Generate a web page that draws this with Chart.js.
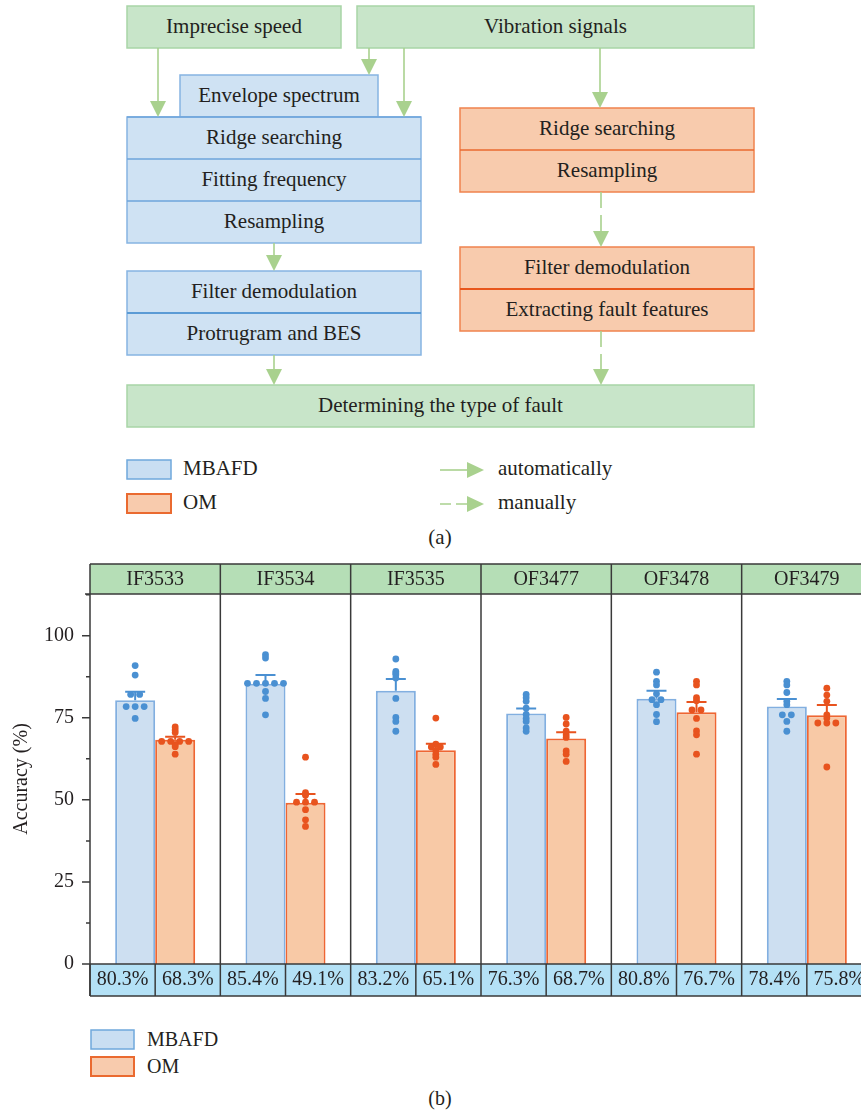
<!DOCTYPE html>
<html>
<head>
<meta charset="utf-8">
<title>MBAFD vs OM</title>
<script src="https://cdn.jsdelivr.net/npm/chart.js@4.4.1/dist/chart.umd.min.js"></script>
<style>
  html, body { margin: 0; padding: 0; background: #fff; overflow: hidden; }
  #page { position: relative; width: 861px; height: 1117px; overflow: hidden; background: #fff; }
  #fig { position: absolute; left: 0; top: 0; }
  #acc { position: absolute; left: 0; top: 555px; }
  svg text { font-family: "Liberation Serif", "Times New Roman", serif; fill: #231f20; }
</style>
</head>
<body>
<div id="page">
<svg id="fig" width="861" height="1117" xmlns="http://www.w3.org/2000/svg">
  <g font-size="21" text-anchor="middle" dominant-baseline="central">
    <!-- inputs -->
    <rect x="127" y="6" width="214" height="42" fill="#c8e5c9" stroke="#a8d5a6" stroke-width="1.5"/>
    <text x="234" y="26">Imprecise speed</text>
    <rect x="357" y="6" width="397" height="42" fill="#c8e5c9" stroke="#a8d5a6" stroke-width="1.5"/>
    <text x="555.5" y="26">Vibration signals</text>

    <!-- MBAFD branch -->
    <rect x="180" y="75" width="198" height="42" fill="#cfe2f3" stroke="#86b4e2" stroke-width="1.5"/>
    <text x="279" y="95">Envelope spectrum</text>
    <rect x="127" y="117" width="294" height="126" fill="#cfe2f3" stroke="#86b4e2" stroke-width="1.5"/>
    <line x1="127" y1="117" x2="421" y2="117" stroke="#6ea5db" stroke-width="1.5"/>
    <line x1="127" y1="159" x2="421" y2="159" stroke="#6ea5db" stroke-width="1.5"/>
    <line x1="127" y1="201" x2="421" y2="201" stroke="#6ea5db" stroke-width="1.5"/>
    <text x="274" y="137">Ridge searching</text>
    <text x="274" y="179">Fitting frequency</text>
    <text x="274" y="221">Resampling</text>
    <rect x="127" y="271" width="294" height="84" fill="#cfe2f3" stroke="#86b4e2" stroke-width="1.5"/>
    <line x1="127" y1="313" x2="421" y2="313" stroke="#5b9bd5" stroke-width="2"/>
    <text x="274" y="291">Filter demodulation</text>
    <text x="274" y="333">Protrugram and BES</text>

    <!-- OM branch -->
    <rect x="460" y="108" width="294" height="84" fill="#f8cbad" stroke="#f0834e" stroke-width="1.5"/>
    <line x1="460" y1="150" x2="754" y2="150" stroke="#ea6a30" stroke-width="1.5"/>
    <text x="607" y="128">Ridge searching</text>
    <text x="607" y="170">Resampling</text>
    <rect x="460" y="247" width="294" height="84" fill="#f8cbad" stroke="#f0834e" stroke-width="1.5"/>
    <line x1="460" y1="289" x2="754" y2="289" stroke="#e8561c" stroke-width="2"/>
    <text x="607" y="267">Filter demodulation</text>
    <text x="607" y="309">Extracting fault features</text>

    <!-- output -->
    <rect x="127" y="385" width="627" height="42" fill="#c8e5c9" stroke="#a8d5a6" stroke-width="1.5"/>
    <text x="440.5" y="405">Determining the type of fault</text>
  </g>

  <!-- arrows -->
  <g stroke="#a9d18e" stroke-width="1.6" fill="none">
    <line x1="158" y1="48" x2="158" y2="102"/>
    <line x1="369" y1="48" x2="369" y2="60"/>
    <line x1="404" y1="48" x2="404" y2="102"/>
    <line x1="600" y1="48" x2="600" y2="93"/>
    <line x1="274" y1="243" x2="274" y2="256"/>
    <line x1="274" y1="355" x2="274" y2="370"/>
    <line x1="601" y1="192" x2="601" y2="232" stroke-dasharray="16 7"/>
    <line x1="601" y1="331" x2="601" y2="370" stroke-dasharray="16 7"/>
    <line x1="440" y1="470" x2="468" y2="470"/>
    <line x1="440" y1="504" x2="468" y2="504" stroke-dasharray="11 5"/>
  </g>
  <g fill="#a9d18e">
    <polygon points="150,101 166,101 158,117"/>
    <polygon points="361,59 377,59 369,75"/>
    <polygon points="396,101 412,101 404,117"/>
    <polygon points="592,92 608,92 600,108"/>
    <polygon points="266,255 282,255 274,271"/>
    <polygon points="266,369 282,369 274,385"/>
    <polygon points="593,231 609,231 601,247"/>
    <polygon points="593,369 609,369 601,385"/>
    <polygon points="467,462 484,470 467,478"/>
    <polygon points="467,496 484,504 467,512"/>
  </g>

  <!-- flowchart key -->
  <rect x="127" y="460" width="44" height="19" fill="#c9def2" stroke="#6fa8dc" stroke-width="1.5"/>
  <rect x="127" y="494" width="44" height="19" fill="#f8cbad" stroke="#ea6a30" stroke-width="2"/>
  <g font-size="21" dominant-baseline="central">
    <text x="183" y="468">MBAFD</text>
    <text x="183" y="502">OM</text>
    <text x="498" y="468">automatically</text>
    <text x="498" y="502">manually</text>
    <text x="440" y="537" text-anchor="middle">(a)</text>
  </g>

  <!-- chart key -->
  <rect x="91" y="1030" width="43" height="19" fill="#c9def2" stroke="#6fa8dc" stroke-width="1.5"/>
  <rect x="91" y="1057" width="43" height="19" fill="#f8cbad" stroke="#ea6a30" stroke-width="2"/>
  <g font-size="20" dominant-baseline="central">
    <text x="147" y="1039">MBAFD</text>
    <text x="147" y="1066">OM</text>
    <text x="440" y="1098" text-anchor="middle">(b)</text>
  </g>
</svg>
<canvas id="acc" width="880" height="450"></canvas>
</div>

<script>
// Bearing data sets and accuracy results
const categories = ['IF3533', 'IF3534', 'IF3535', 'OF3477', 'OF3478', 'OF3479'];
const mbafdMean = [80.3, 85.4, 83.2, 76.3, 80.8, 78.4];
const omMean = [68.3, 49.1, 65.1, 68.7, 76.7, 75.8];
const mbafdSem = [2.6, 2.6, 3.6, 1.5, 2.4, 2.3];
const omSem = [0.9, 2.7, 2.0, 1.9, 3.1, 3.1];

// Accuracy of each individual run (%)
const mbafdRuns = [
  [90.9, 88.0, 82.1, 82.1, 78.4, 78.4, 78.4, 74.8],
  [94.2, 93.2, 85.5, 85.5, 85.5, 85.5, 85.5, 83.0, 80.9, 75.9],
  [92.9, 89.1, 88.6, 88.1, 87.1, 80.9, 75.1, 73.9, 70.9],
  [82.1, 81.1, 80.0, 77.9, 76.0, 74.8, 73.9, 71.9, 70.9],
  [88.9, 86.1, 85.0, 82.3, 80.5, 80.5, 79.0, 76.0, 73.8],
  [86.1, 85.0, 82.7, 80.0, 79.0, 75.9, 75.9, 73.9, 70.9]
];
const omRuns = [
  [72.2, 71.3, 70.5, 67.8, 67.8, 67.8, 67.8, 66.8, 66.2, 63.9],
  [63.0, 52.2, 51.4, 49.3, 49.3, 49.3, 47.0, 43.9, 41.9],
  [74.9, 67.0, 66.1, 66.1, 65.0, 63.9, 63.0, 60.8],
  [75.1, 73.1, 70.9, 69.8, 69.0, 64.9, 63.9, 61.7],
  [86.1, 85.0, 81.1, 80.2, 77.4, 77.4, 74.8, 71.0, 69.8, 63.9],
  [84.0, 81.9, 80.0, 75.9, 74.9, 73.4, 73.4, 73.4, 60.0]
];

const yTicks = [0, 25, 50, 75, 100];
const yMax = 112.7;

const SERIF = '"Liberation Serif", "Times New Roman", serif';
const INK = '#231f20';
const FRAME = '#3a3a3a';

Chart.defaults.font.family = SERIF;
Chart.defaults.color = INK;

// horizontal offsets for runs that share the same value
function spreadOffsets(vals, gap) {
  const counts = {}, seen = {};
  vals.forEach(v => { counts[v] = (counts[v] || 0) + 1; });
  return vals.map(v => {
    const k = (seen[v] = (seen[v] || 0) + 1) - 1;
    return (k - (counts[v] - 1) / 2) * gap;
  });
}

const series = [
  { mean: mbafdMean, sem: mbafdSem, runs: mbafdRuns, dot: '#4a90d2' },
  { mean: omMean, sem: omSem, runs: omRuns, dot: '#e8531e' }
];

const panelFrame = {
  id: 'panelFrame',
  beforeDatasetsDraw(chart) {
    const { ctx, chartArea: a, scales: { x } } = chart;
    const w = x.getPixelForValue(1) - x.getPixelForValue(0);
    ctx.save();
    ctx.strokeStyle = FRAME;
    ctx.lineWidth = 1.5;
    for (let i = 1; i < categories.length; i++) {
      const px = x.getPixelForValue(i) - w / 2;
      ctx.beginPath();
      ctx.moveTo(px, a.top);
      ctx.lineTo(px, a.bottom);
      ctx.stroke();
    }
    ctx.restore();
  },
  afterDatasetsDraw(chart) {
    const { ctx, chartArea: a, scales: { x, y } } = chart;
    const w = x.getPixelForValue(1) - x.getPixelForValue(0);

    // error bars (mean + SEM) and individual runs
    series.forEach((s, di) => {
      const meta = chart.getDatasetMeta(di);
      meta.data.forEach((bar, i) => {
        const yTop = y.getPixelForValue(s.mean[i]);
        const yCap = y.getPixelForValue(s.mean[i] + s.sem[i]);
        ctx.save();
        ctx.strokeStyle = s.dot;
        ctx.lineWidth = 2;
        ctx.beginPath();
        ctx.moveTo(bar.x, yTop);
        ctx.lineTo(bar.x, yCap);
        ctx.moveTo(bar.x - 10, yCap);
        ctx.lineTo(bar.x + 10, yCap);
        ctx.stroke();
        const offs = spreadOffsets(s.runs[i], 9);
        ctx.fillStyle = s.dot;
        s.runs[i].forEach((v, k) => {
          ctx.beginPath();
          ctx.arc(bar.x + offs[k], y.getPixelForValue(v), 3.4, 0, Math.PI * 2);
          ctx.fill();
        });
        ctx.restore();
      });
    });

    // data set header strip
    const hTop = a.top - 30;
    ctx.save();
    ctx.fillStyle = '#b5deb6';
    ctx.fillRect(a.left, hTop, a.right - a.left, a.top - hTop);
    ctx.strokeStyle = FRAME;
    ctx.lineWidth = 1.5;
    ctx.beginPath();
    ctx.moveTo(a.left, hTop);
    ctx.lineTo(a.right, hTop);
    ctx.moveTo(a.left - 5, a.top);
    ctx.lineTo(a.right, a.top);
    for (let i = 1; i < categories.length; i++) {
      const px = x.getPixelForValue(i) - w / 2;
      ctx.moveTo(px, hTop);
      ctx.lineTo(px, a.top);
    }
    ctx.stroke();
    ctx.fillStyle = INK;
    ctx.font = '20px ' + SERIF;
    ctx.textAlign = 'center';
    ctx.textBaseline = 'middle';
    categories.forEach((c, i) => ctx.fillText(c, x.getPixelForValue(i), (hTop + a.top) / 2 + 1));

    // value table under the bars
    const tBot = a.bottom + 32;
    ctx.fillStyle = '#b4e1f6';
    ctx.fillRect(a.left, a.bottom, a.right - a.left, tBot - a.bottom);
    ctx.beginPath();
    ctx.moveTo(a.left, a.bottom);
    ctx.lineTo(a.right, a.bottom);
    ctx.moveTo(a.left, tBot);
    ctx.lineTo(a.right, tBot);
    categories.forEach((c, i) => {
      const cx = x.getPixelForValue(i);
      [cx - w / 2, cx, cx + w / 2].forEach(px => {
        ctx.moveTo(px, a.bottom);
        ctx.lineTo(px, tBot);
      });
    });
    ctx.stroke();
    ctx.fillStyle = INK;
    categories.forEach((c, i) => {
      const cx = x.getPixelForValue(i);
      const ty = (a.bottom + tBot) / 2;
      ctx.fillText(mbafdMean[i].toFixed(1) + '%', cx - w / 4, ty);
      ctx.fillText(omMean[i].toFixed(1) + '%', cx + w / 4, ty);
    });

    // value axis with major and minor tick marks
    ctx.beginPath();
    ctx.moveTo(a.left, hTop);
    ctx.lineTo(a.left, tBot);
    yTicks.forEach((v) => {
      const py = y.getPixelForValue(v);
      ctx.moveTo(a.left - 8, py);
      ctx.lineTo(a.left, py);
      const mid = v + 12.5;
      if (mid < yMax) {
        const pm = y.getPixelForValue(mid);
        ctx.moveTo(a.left - 4, pm);
        ctx.lineTo(a.left, pm);
      }
    });
    ctx.stroke();
    ctx.restore();
  }
};

new Chart(document.getElementById('acc'), {
  type: 'bar',
  data: {
    labels: categories,
    datasets: [
      {
        label: 'MBAFD',
        data: mbafdMean,
        backgroundColor: '#cddff1',
        borderColor: '#82afe0',
        borderWidth: 2
      },
      {
        label: 'OM',
        data: omMean,
        backgroundColor: '#f8c9a6',
        borderColor: '#ee6633',
        borderWidth: 2
      }
    ]
  },
  options: {
    responsive: false,
    animation: false,
    devicePixelRatio: 1,
    categoryPercentage: 0.614,
    barPercentage: 1,
    layout: { padding: { left: 0, top: 39, right: 8, bottom: 41 } },
    plugins: { legend: { display: false }, tooltip: { enabled: false } },
    scales: {
      x: { type: 'category', display: false, offset: true },
      y: {
        min: 0,
        max: yMax,
        afterFit: s => { s.width = 90; },
        afterBuildTicks: s => { s.ticks = yTicks.map(v => ({ value: v })); },
        grid: { display: false, drawTicks: false },
        border: { display: false },
        ticks: { padding: 16, font: { size: 20, family: SERIF }, color: INK },
        title: {
          display: true,
          text: 'Accuracy (%)',
          font: { size: 20, family: SERIF },
          color: INK,
          padding: { top: 10, bottom: 0 }
        }
      }
    }
  },
  plugins: [panelFrame]
});
</script>
</body>
</html>
